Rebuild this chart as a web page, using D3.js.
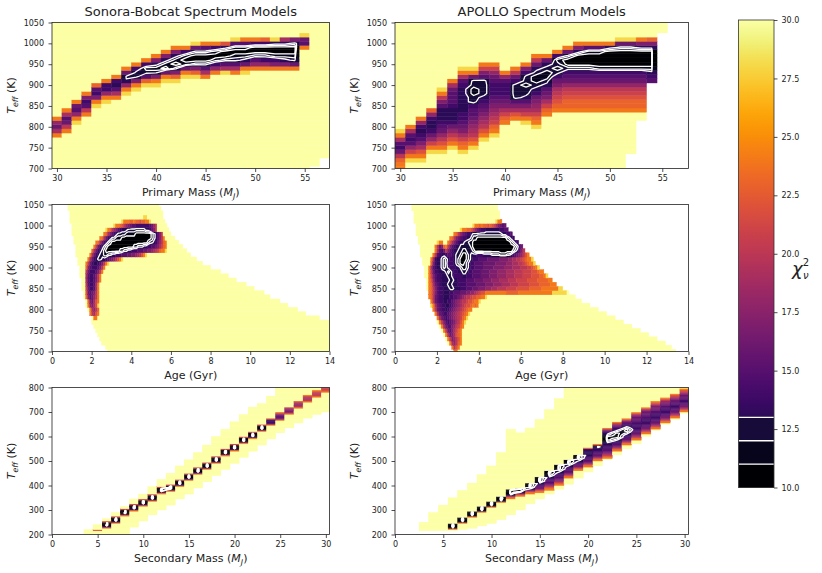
<!DOCTYPE html>
<html>
<head>
<meta charset="utf-8">
<script src="https://cdn.jsdelivr.net/npm/d3@7"></script>
<style>
	body { margin: 0; background: #fff; }
	text { font-family: "DejaVu Sans", sans-serif; fill: #222; }
</style>
</head>
<body>
<svg id="fig" width="822" height="573"></svg>
<script>
// cell codes: '.' = no model, 'Y' = chi2 >= 30, 'a'..'u' = chi2 10..30 (one per unit)
// runs: a code followed by a count repeats it

const primMass = [30, 31, 32, 33, 34, 35, 36, 37, 38, 39, 40, 41, 42, 43, 44, 45, 46, 47, 48, 49, 50, 51, 52, 53, 54, 55, 56, 57]
const secMass = [1, 2, 3, 4, 5, 6, 7, 8, 9, 10, 11, 12, 13, 14, 15, 16, 17, 18, 19, 20, 21, 22, 23, 24, 25, 26, 27, 28, 29, 30]

const massTicks = [30, 35, 40, 45, 50, 55]
const ageTicks = [0, 2, 4, 6, 8, 10, 12, 14]
const secMassTicks = [0, 5, 10, 15, 20, 25, 30]
const teffPrimTicks = [700, 750, 800, 850, 900, 950, 1000, 1050]
const teffSecTicks = [200, 300, 400, 500, 600, 700, 800]
const chiTicks = [10, 12.5, 15, 17.5, 20, 22.5, 25, 27.5, 30]
const contourLevels = [11, 12, 13]

// primary mass columns, Teff 700 -> 1050 in 10 K steps
const sonoraPrimary = [
	'Y8ojgioY23', 'Y9okgfjoY21', 'Y11soifgoY19', 'Y13okfehoY17', 'Y15sohefnY15',
	'Y16soieeoY14', 'Y17ojfdeoY13', 'Y18soidcgoY11', 'Y19sohcceoY10', 'Y20snfcbeoY9',
	'Y20sohcbdhoY8', 'Y21sogabdhoY7', 'Y21snhcabdhoY6', 'Y22sogbabeoY6', 'Y22snhcaacgsY5',
	'Y22ojfcaacfoY5', 'Y23oiebabeoY5', 'Y23sjfcaadmY5', 'Y23ojfcbabfsY4', 'Y23sogdbabfoY4',
	'Y24oifcaaeoY4', 'Y24oiecaaenY4', 'Y24ohebaadsY4', 'Y24ohdbaadjY4', 'Y24ogcbaachY4',
	'Y29ofgsY3', '.1Y35', '.3Y33'
]
const apolloPrimary = [
	'oonkgefjosY26', 'Y2solifefjoY25', 'Y2somjhfedeioY23', 'Y4soliged2einY21',
	'Y4somkigfed3fhkosY16', 'Y5somkiged3ef3gjoY14', 'Y4sonljhgfe2d6efjosY11',
	'Y5somkjihgf2ec2b2c2gosY11', 'Y7somkjihgfedc4fhloY10', 'Y8sonlkjihgfe3fgiloY10',
	'Y11onljhgfe3fioY12', 'Y12omjhfc4egkoY11', 'Y11soljhfdc2bc2ehoY10',
	'Y10sonljihgedcb2cdgkoY8', 'Y13onljhgfdcb2cdgoY8', 'Y14onmlkjhgecbcbeoY7',
	'Y14on2mlkigfeca2cgoY6', 'Y14on2mlkigfeca3dhoY5', 'Y14on2mlkigfeca3bfoY5',
	'Y14on2mlkigfeba3bfoY5', 'Y14on2mlkigfeba4doY5', 'Y14on2mlkigfeba4cgsY4',
	'.4Y10on2mlkigfeba4cgsY4', '.12Y2on2mlkigfeba4dhoY4', '.21fedba4dhnY4',
	'.33Y3', '.36', '.36'
]

// age rows, 0.1 Gyr cells, Teff 1050 (first) down to 700 (last)
const sonoraAge = [
	'.8Y46.86', '.8Y47.85', '.9Y47.84', '.9Y37s2Y8.84',
	'.9Y26sooonnonnmnnoosY7.83',
	'.10Y21soonmkihgffeeeeeeefgikY5.82',
	'.10Y17sonkihfed3c9d2eghkY6.81',
	'.10Y16onjhfedc4b5a8bcdfhkY4.80',
	'.11Y13onjgedc2b3a15bcdfhkoY5.78',
	'.11Y11onjgedcba18bc2degiknoY6.76',
	'.12Y9okgedcba13b2c3d2e2f2ghjlnoY8.74',
	'.12Y8njgedcba7b2c2d2e3f3g2h2ijklno2sY10.72',
	'.12Y7ojgedc2b2c2d2e3f3g2h2ijkmosY22.70',
	'.13Y5ojgedc2d2efghikmosY37.67',
	'.13Y4okgeddefhkosY47.64',
	'.14Y3nhfeeefhkoY53.60',
	'.14Y3kgeeefhkoY59.55',
	'.14Y3jfeefhkoY64.51',
	'.15Y2jfeefhkoY68.47',
	'.15Y2kfeefjoY74.42',
	'.15Y2lgeefjoY78.38',
	'.16Y1mgfghkoY83.33',
	'.16Y1nhfgikoY86.30',
	'.17Y1nhgjmoY91.25',
	'.17Y1oihjmsY95.21',
	'.18Y1ojiknY100.16',
	'.19okjmoY104.12',
	'.20Y1ooY112.5',
	'.20Y120', '.21Y119', '.22Y118', '.23Y117', '.24Y116', '.25Y115', '.27Y113', '.28Y112'
]
const apolloAge = [
	'.8Y41.91', '.8Y41.91', '.9Y41.90', '.9Y41.90',
	'.9Y39soo.89',
	'.10Y27soonon2mnmljhgfg.87',
	'.10Y21soon2mkigfe2d7e2f2.86',
	'.10Y18onkigfe2dc14d2e2f.84',
	'.11Y15onkhgfe2d2cb2a14bcde.83',
	'.11Y9sooY2omjhfed2c2b2a18bcde.81',
	'.12Y7okghnokhfed2c5ba20bceg.79',
	'.12Y7ojfegkhfed2c2b2c3ba18bcdfhk.78',
	'.12Y6okfed2ef2edc2ba2bcd3e3d4c4b3c2defghikmo.76',
	'.13Y4ojed2cbcde2dcba3bcde3f4g6h4i2j2k2lmno2s.74',
	'.13Y4nhed2cbce3dcba2bcde2f4g6h5i3j3k2lmno2s.73',
	'.14Y2ojfed2cbcde3d2cb2cde2f4g5h5i4j4k3l2mnos.71',
	'.14Y2okge2d3cbcde2d2c2de2f4g4h4i4j4k4l4m3no2.69',
	'.14Y2olhfe2d3c2de4d2e3f4g4h4i4j4k4l4m4n2os.67',
	'.15Y1omife2d4c2d2e4f4g4h4i4j4k4l5m5n5o2.64',
	'.15Y1onjgfed3c2d3e4f5g4h4i4j4k4l5m5n5o3.62',
	'.15Y1onkhfe2d3c2d3e3f3g3h3i3j3k4l5m6n6o8s2.60',
	'.16onkhfe2d3e2f3g3h2i2jklm2o10n6o16s7Y1.57',
	'.16onkgfe2d3e2f2ghijk2lm2n2o2sY42.54',
	'.17okgfe2d2e2fghijk2lm2no2sY48.51',
	'.17sojgfe2d2efghijklm2nonoY53.47',
	'.18okgfe2defghijklmno2Y60.43',
	'.19ojgfe2fghijklmnosY65.39',
	'.20ojgfefghijklnosY70.35',
	'.20Y1okhfefghjkmosY75.31',
	'.21Y1ojgffhiklnoY80.27',
	'.22Y1okgfhjlnoY85.23',
	'.23Y1ojghjmnoY89.19',
	'.24Y1okhikmoY93.15',
	'.25Y1ojiknoY97.11',
	'.27okmoY101.8',
	'.28ooY104.6'
]

// secondary mass columns, Teff 200 -> 800 in 5 K steps
const sonoraSecondary = [
	'.120', '.120', '.120', 'Y4.116', 'Y3mY4.112',
	'Y5oeaablY2.107', 'Y9oeaablY3.102', 'Y15oeaablY2.97', '.6Y13oeaablY4.91', '.11Y12oeaablY4.87',
	'.16Y11oeaablY6.81', '.20Y13oeaablY6.75', '.24Y11oeaablY9.70', '.29Y10oeaablY11.64', '.33Y11oeaablY11.59',
	'.38Y11oeaablY12.53', '.43Y10oeaablY14.47', '.48Y10oeaablY16.40', '.53Y11oeaablY16.34', '.58Y10oeaablY18.28',
	'.63Y11oeaablY18.22', '.68Y10oeaablY20.16', '.73Y11oeaablY17.13', '.78Y11ogeedmY18.7', '.83Y10ohgfgjnY20',
	'.87Y11ojhhikY16', '.91Y12okiijmY11', '.95Y13okjjkoY6', '.98Y14olkkloY2', '.100Y16omll'
]
const apolloSecondary = [
	'.120', '.120', '.3Y7.110', '.3Y15.102', '.3Y21.96',
	'.3Y1ocaabY21.90', '.4Y5ocaabY22.84', '.5Y9ocaabY23.78', '.7Y11ocaabY26.71', '.9Y13ocaabY29.64',
	'.12Y14ocaabY36.53', '.16Y13omhca3bY49.34', '.20Y11omhca2bY45.37', '.25Y8onjfca3bY45.33', '.29Y5onkhgfedca3bY47.26',
	'.33Y3o2mjhgf3edcba2bY50.18', '.37Y3onlihgf2e2dcba3bY54.9', '.41Y5onkhgf2e2dcba2bY59', '.46Y6onkhgfedcba2bY55', '.51Y4onkhgf2e2d5enY49',
	'.56Y4onkhgf2e2d2cdoY46', '.61Y1onljhgf2e3d2cba3bcdefinY33', '.65Y3onkhgfe2dcba4bcdefghkoY28', '.70Y3onkhgfe2dcba2bcdefghkoY25', '.74Y3onkihgf2e6f3g2hikoY20',
	'.80Y2onkihgf2e5f3g2hikoY16', '.85Y1onkihgf2e5f2g2h2ikmoY11', '.90Y1onkihgf2e4f2g2hikmoY8', '.94Y1onkihgf2e3f2g2hikmoY5', '.99Y1onkihgf2e2f2g2hikmos'
]

const LEVELS = 'abcdefghijklmnopqrstu'

function decode(code, n) {
	const out = []
	code.replace(/([.A-Za-z])(\d*)/g, (m, c, k) => {
		const v = c === '.' ? NaN : c === 'Y' ? 31 : 10 + LEVELS.indexOf(c)
		for (let i = 0; i < (k ? +k : 1); i++) out.push(v)
		return m
	})
	if (out.length !== n) console.warn('run length', out.length, n, code)
	while (out.length < n) out.push(NaN)
	return out.slice(0, n)
}

// inferno, stepped below 13 like the colorbar
function chiColor(v) {
	if (v >= 30) return d3.interpolateInferno(1)
	if (v < 13) return d3.interpolateInferno(Math.floor(v - 10) / 20)
	return d3.interpolateInferno((v - 10) / 20)
}

const layout = {
	cols: [[52, 329.5], [395, 688.5]],
	rows: [[22.5, 168.5], [204.5, 351.5], [387.5, 534.5]]
}

const massLabel = [{ t: 'Primary Mass (' }, { t: 'M', i: true }, { t: 'J', i: true, sub: true }, { t: ')' }]
const secLabel = [{ t: 'Secondary Mass (' }, { t: 'M', i: true }, { t: 'J', i: true, sub: true }, { t: ')' }]
const ageLabel = [{ t: 'Age (Gyr)' }]
const teffLabel = [{ t: 'T', i: true }, { t: 'eff', i: true, sub: true }, { t: '\u00a0(K)' }]

const panels = [
	{ col: 0, row: 0, title: 'Sonora-Bobcat Spectrum Models', kind: 'cols', data: sonoraPrimary, xs: primMass, dx: 1, yLow: 700, dy: 10, ny: 36,
		xDomain: [29.5, 57.5], yDomain: [700, 1050], xTicks: massTicks, yTicks: teffPrimTicks, xLabel: massLabel },
	{ col: 1, row: 0, title: 'APOLLO Spectrum Models', kind: 'cols', data: apolloPrimary, xs: primMass, dx: 1, yLow: 700, dy: 10, ny: 36,
		xDomain: [29.5, 57.5], yDomain: [700, 1050], xTicks: massTicks, yTicks: teffPrimTicks, xLabel: massLabel },
	{ col: 0, row: 1, kind: 'rows', data: sonoraAge, xLow: 0.05, dx: 0.1, nx: 140, yLow: 700, dy: 10,
		xDomain: [0, 14], yDomain: [700, 1050], xTicks: ageTicks, yTicks: teffPrimTicks, xLabel: ageLabel },
	{ col: 1, row: 1, kind: 'rows', data: apolloAge, xLow: 0.05, dx: 0.1, nx: 140, yLow: 700, dy: 10,
		xDomain: [0, 14], yDomain: [700, 1050], xTicks: ageTicks, yTicks: teffPrimTicks, xLabel: ageLabel },
	{ col: 0, row: 2, kind: 'cols', data: sonoraSecondary, xs: secMass, dx: 1, yLow: 202.5, dy: 5, ny: 120,
		xDomain: [0, 30.4], yDomain: [200, 800], xTicks: secMassTicks, yTicks: teffSecTicks, xLabel: secLabel },
	{ col: 1, row: 2, kind: 'cols', data: apolloSecondary, xs: secMass, dx: 1, yLow: 202.5, dy: 5, ny: 120,
		xDomain: [0, 30.4], yDomain: [200, 800], xTicks: secMassTicks, yTicks: teffSecTicks, xLabel: secLabel }
]

function buildGrid(p) {
	if (p.kind === 'cols') {
		const colVals = p.data.map(s => decode(s, p.ny))
		p.nx = colVals.length
		p.xAt = i => p.xs[i]
		p.val = (i, j) => colVals[i][j]
	} else {
		const rowVals = p.data.map(s => decode(s, p.nx))
		p.ny = rowVals.length
		p.xAt = i => p.xLow + i * p.dx
		p.val = (i, j) => rowVals[p.ny - 1 - j][i]
	}
	p.yAt = j => p.yLow + j * p.dy
}

function richText(sel, parts, size) {
	let shift = 0
	parts.forEach(pt => {
		const want = pt.sub ? size * 0.3 : 0
		sel.append('tspan')
			.attr('dy', want - shift)
			.attr('font-style', pt.i ? 'italic' : null)
			.attr('font-size', pt.sub ? size * 0.72 : size)
			.text(pt.t)
		shift = want
	})
}

const svg = d3.select('#fig')
const defs = svg.append('defs')

panels.forEach((p, k) => {
	buildGrid(p)
	const [left, right] = layout.cols[p.col]
	const [top, bottom] = layout.rows[p.row]

	const x = d3.scaleLinear().domain(p.xDomain).range([left, right])
	const y = d3.scaleLinear().domain(p.yDomain).range([bottom, top])

	defs.append('clipPath').attr('id', 'clip' + k)
		.append('rect')
		.attr('x', left).attr('y', top)
		.attr('width', right - left).attr('height', bottom - top)

	const g = svg.append('g').attr('clip-path', `url(#clip${k})`)

	// merge equal neighbours along x into one rect
	const cells = []
	for (let j = 0; j < p.ny; j++) {
		let i = 0
		while (i < p.nx) {
			const v = p.val(i, j)
			if (isNaN(v)) { i++; continue }
			let e = i
			while (e + 1 < p.nx && p.val(e + 1, j) === v) e++
			cells.push({ x0: p.xAt(i) - p.dx / 2, x1: p.xAt(e) + p.dx / 2, y0: p.yAt(j) - p.dy / 2, y1: p.yAt(j) + p.dy / 2, v })
			i = e + 1
		}
	}

	g.selectAll('rect.cell')
		.data(cells)
		.enter()
		.append('rect')
		.attr('class', 'cell')
		.attr('x', d => x(d.x0))
		.attr('width', d => x(d.x1) - x(d.x0))
		.attr('y', d => y(d.y1))
		.attr('height', d => y(d.y0) - y(d.y1))
		.attr('fill', d => chiColor(d.v))
		.attr('stroke', d => chiColor(d.v))
		.attr('stroke-width', 0.4)

	// contours at chi2 = 11, 12, 13 (low side)
	const vals = new Array(p.nx * p.ny)
	for (let j = 0; j < p.ny; j++) {
		for (let i = 0; i < p.nx; i++) {
			const v = p.val(i, j)
			vals[i + j * p.nx] = isNaN(v) ? -100 : -v
		}
	}
	const contours = d3.contours()
		.size([p.nx, p.ny])
		.thresholds(contourLevels.map(l => -(l - 0.5)))(vals)

	const x0c = p.xAt(0), y0c = p.yAt(0)
	const path = d3.geoPath(d3.geoTransform({
		point: function (gx, gy) {
			this.stream.point(x(x0c + (gx - 0.5) * p.dx), y(y0c + (gy - 0.5) * p.dy))
		}
	}))

	g.selectAll('path.ct')
		.data(contours)
		.enter()
		.append('path')
		.attr('class', 'ct')
		.attr('d', path)
		.attr('fill', 'none')
		.attr('stroke', '#fff')
		.attr('stroke-width', 1.3)
		.attr('stroke-linejoin', 'round')

	svg.append('rect')
		.attr('x', left).attr('y', top)
		.attr('width', right - left).attr('height', bottom - top)
		.attr('fill', 'none')
		.attr('stroke', '#222')
		.attr('stroke-width', 0.8)

	const xa = svg.append('g')
		.attr('transform', `translate(0,${bottom})`)
		.call(d3.axisBottom(x).tickValues(p.xTicks).tickFormat(d3.format('d')).tickSize(3.5).tickPadding(3.5))
	const ya = svg.append('g')
		.attr('transform', `translate(${left},0)`)
		.call(d3.axisLeft(y).tickValues(p.yTicks).tickFormat(d3.format('d')).tickSize(3.5).tickPadding(4.5))

	;[xa, ya].forEach(a => {
		a.attr('font-size', 8).attr('font-family', '"DejaVu Sans", sans-serif')
		a.select('.domain').remove()
		a.selectAll('line').attr('stroke', '#222').attr('stroke-width', 0.8)
		a.selectAll('text').attr('fill', '#222')
	})

	richText(svg.append('text')
		.attr('x', (left + right) / 2)
		.attr('y', bottom + 27)
		.attr('text-anchor', 'middle'), p.xLabel, 11)

	richText(svg.append('text')
		.attr('transform', `translate(${left - 37},${(top + bottom) / 2}) rotate(-90)`)
		.attr('text-anchor', 'middle'), teffLabel, 11)

	if (p.title) {
		svg.append('text')
			.attr('x', (left + right) / 2)
			.attr('y', 16)
			.attr('text-anchor', 'middle')
			.attr('font-size', 13)
			.text(p.title)
	}
})

//-----------------------------------------------------------------------------------------------
// colorbar

const cbX = 738.5, cbW = 35.5, cbTop = 20, cbBot = 487.5
const cy = d3.scaleLinear().domain([10, 30]).range([cbBot, cbTop])

const grad = defs.append('linearGradient')
	.attr('id', 'cbgrad')
	.attr('x1', 0).attr('y1', 1).attr('x2', 0).attr('y2', 0)
d3.range(13, 30.01, 0.5).forEach(v => {
	grad.append('stop')
		.attr('offset', (v - 13) / 17)
		.attr('stop-color', chiColor(v))
})

svg.append('rect')
	.attr('x', cbX).attr('y', cy(30))
	.attr('width', cbW).attr('height', cy(13) - cy(30))
	.attr('fill', 'url(#cbgrad)')

svg.selectAll('rect.band')
	.data([10, 11, 12])
	.enter()
	.append('rect')
	.attr('class', 'band')
	.attr('x', cbX).attr('y', d => cy(d + 1))
	.attr('width', cbW).attr('height', d => cy(d) - cy(d + 1) + 0.3)
	.attr('fill', d => chiColor(d))

svg.selectAll('line.lev')
	.data(contourLevels)
	.enter()
	.append('line')
	.attr('class', 'lev')
	.attr('x1', cbX).attr('x2', cbX + cbW)
	.attr('y1', d => cy(d)).attr('y2', d => cy(d))
	.attr('stroke', '#fff')
	.attr('stroke-width', 1.4)

svg.append('rect')
	.attr('x', cbX).attr('y', cbTop)
	.attr('width', cbW).attr('height', cbBot - cbTop)
	.attr('fill', 'none')
	.attr('stroke', '#333')
	.attr('stroke-width', 0.8)

const ca = svg.append('g')
	.attr('transform', `translate(${cbX + cbW},0)`)
	.call(d3.axisRight(cy).tickValues(chiTicks).tickFormat(d3.format('.1f')).tickSize(3.5).tickPadding(4))
ca.attr('font-size', 8).attr('font-family', '"DejaVu Sans", sans-serif')
ca.select('.domain').remove()
ca.selectAll('line').attr('stroke', '#222').attr('stroke-width', 0.8)
ca.selectAll('text').attr('fill', '#222')

// chi^2_nu label: one text, super- and subscript stacked
const chi = svg.append('text')
	.attr('x', 792).attr('y', 275)
	.attr('font-size', 18)
chi.append('tspan').attr('font-style', 'italic').text('\u03c7')
chi.append('tspan').attr('font-size', 10).attr('dy', -9).text('2')
chi.append('tspan').attr('font-size', 10).attr('font-style', 'italic').attr('dx', -6).attr('dy', 12.5).text('\u03bd')
</script>
</body>
</html>
